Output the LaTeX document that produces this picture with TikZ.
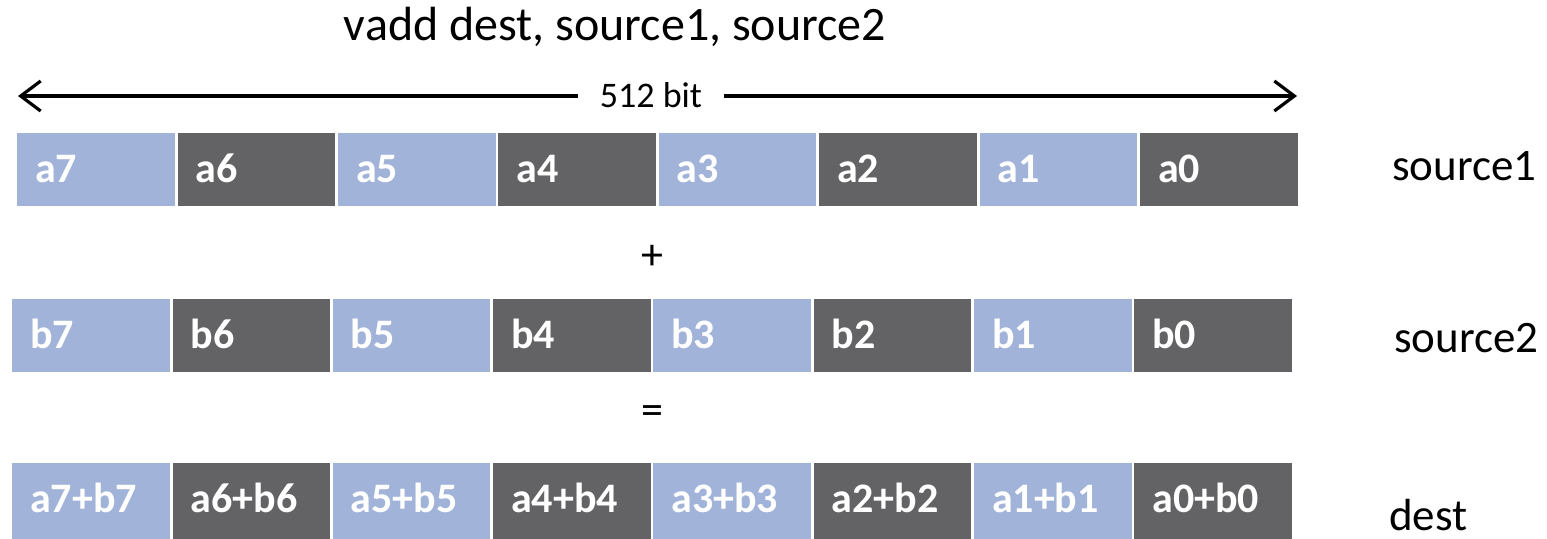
\documentclass[tikz,border=0pt]{standalone}
\usepackage{fontspec}
\setmainfont{Carlito}
\usetikzlibrary{arrows.meta}
\definecolor{cellblue}{RGB}{161,179,217}
\definecolor{celldark}{RGB}{99,99,102}
\begin{document}
\begin{tikzpicture}[x=1pt,y=-1pt,
  cell/.style={anchor=north west, inner xsep=18pt, inner ysep=0pt,
    text width=121.5pt, align=left, minimum height=73pt,
    text height=25pt, text depth=0pt,
    font=\fontsize{42}{44}\selectfont\bfseries, text=white},
  lbl/.style={font=\fontsize{45}{50}\selectfont, anchor=base west, inner sep=0pt},
  sign/.style={font=\fontsize{44}{48}\selectfont, inner sep=0pt},
  barb/.style={line width=3.2pt, {Straight Barb[length=20pt,width=30pt]}-{Straight Barb[length=20pt,width=30pt]}}
]
\path[use as bounding box, fill=white] (0,0) rectangle (1547,538);

% title
\node[font=\fontsize{48}{52}\selectfont, anchor=base, inner sep=0pt] (title) at (615,40) {vadd dest, source1, source2};

% width arrow
\coordinate (aL) at (18,96);
\coordinate (aR) at (1297,96);
\draw[barb] (aL) -- (aR);
\node[fill=white, inner xsep=22pt, inner ysep=4pt, anchor=base, font=\fontsize{36}{40}\selectfont] (bits) at (651,107) {512 bit};

% rows
\foreach \n [count=\k from 0] in {7,6,5,4,3,2,1,0} {
  \ifodd\k \def\fc{celldark}\else\def\fc{cellblue}\fi
  \node[cell, fill=\fc] (s1c\n) at ({17+160.4*\k},133) {a\n};
  \node[cell, fill=\fc] (s2c\n) at ({12+160.3*\k},299) {b\n};
  \node[cell, fill=\fc, minimum height=76pt, text height=23.5pt] (dc\n) at ({12+160.3*\k},463) {a\n+b\n};
}

% operators
\node[sign] (plus) at (652,257) {+};
\node[sign] (eq) at (652,415) {=};

% row labels
\node[lbl] (l1) at (1392,180) {source1};
\node[lbl] (l2) at (1394,352) {source2};
\node[lbl] (l3) at (1389,530) {dest};
\end{tikzpicture}
\end{document}
